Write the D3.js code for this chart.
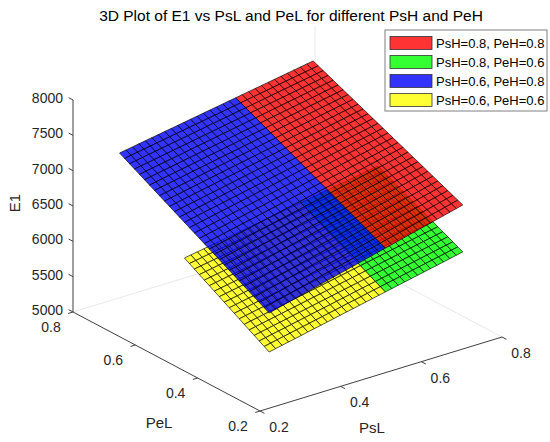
<!DOCTYPE html>
<html>
<head>
<meta charset="utf-8">
<script src="https://cdn.jsdelivr.net/npm/d3@7"></script>
<style>
  body { margin: 0; background: #fff; }
  svg { font-family: "Liberation Sans", Arial, sans-serif; }
</style>
</head>
<body>
<div id="chart"></div>
<script>
// DATA
const seriesNames = ["PsH=0.8, PeH=0.8", "PsH=0.8, PeH=0.6", "PsH=0.6, PeH=0.8", "PsH=0.6, PeH=0.6"];
// grid extent of each surface
const psLStart = [0.588, 0.588, 0.3, 0.3];
const psLEnd = [0.78, 0.78, 0.588, 0.588];
const peLStart = [0.3, 0.3, 0.3, 0.3];
const peLEnd = [0.78, 0.572, 0.78, 0.572];
// E1 at the corners: [PsL start/PeL start, end/start, start/end, end/end]
const e1Corners = [
  [6394, 6670, 7401, 7587],
  [5774, 6005, 6400, 6586],
  [5979, 6394, 7122, 7401],
  [5427, 5774, 6122, 6400]
];
const gridStep = 0.016;
const psLTicks = [0.2, 0.4, 0.6, 0.8];
const peLTicks = [0.2, 0.4, 0.6, 0.8];
const e1Ticks = [5000, 5500, 6000, 6500, 7000, 7500, 8000];

// STYLE
const colors = ["#ff0000", "#00ff00", "#0000ff", "#ffff00"];
const textColor = "#262626";
const axisColor = "#404040";

// PROJECTION (view az -37.5, el 30)
const width = 550, height = 442;
const origin = [260, 411];
const uAxis = [242, -74], vAxis = [-187, -99], wAxis = [0, -212];

const u = d3.scaleLinear().domain([0.2, 0.8]).range([0, 1]);
const v = d3.scaleLinear().domain([0.2, 0.8]).range([0, 1]);
const w = d3.scaleLinear().domain([5000, 8000]).range([0, 1]);

function project(ps, pe, e) {
  const a = u(ps), b = v(pe), c = w(e);
  return [origin[0] + a * uAxis[0] + b * vAxis[0] + c * wAxis[0],
          origin[1] + a * uAxis[1] + b * vAxis[1] + c * wAxis[1]];
}

// distance from the viewer along the line of sight
function depth(ps, pe, e) {
  return 187 * u(ps) + 242 * v(pe) - 178 * w(e);
}

const svg = d3.select("#chart").append("svg")
    .attr("width", width)
    .attr("height", height);

// back box edges
const back = project(0.8, 0.8, 5000);
const backLines = [
  [project(0.2, 0.8, 5000), back],
  [project(0.8, 0.2, 5000), back],
  [back, project(0.8, 0.8, 8000)]
];
svg.append("g")
    .attr("stroke", "#e3e3e3")
    .attr("stroke-width", 0.8)
  .selectAll()
  .data(backLines)
  .join("line")
    .attr("x1", d => d[0][0]).attr("y1", d => d[0][1])
    .attr("x2", d => d[1][0]).attr("y2", d => d[1][1]);

// SURFACE CELLS
const cells = [];
seriesNames.forEach((name, k) => {
  const nu = Math.round((psLEnd[k] - psLStart[k]) / gridStep);
  const nv = Math.round((peLEnd[k] - peLStart[k]) / gridStep);
  const [e00, e10, e01, e11] = e1Corners[k];
  const node = (i, j) => {
    const s = i / nu, t = j / nv;
    return [
      psLStart[k] + s * (psLEnd[k] - psLStart[k]),
      peLStart[k] + t * (peLEnd[k] - peLStart[k]),
      e00 * (1 - s) * (1 - t) + e10 * s * (1 - t) + e01 * (1 - s) * t + e11 * s * t
    ];
  };
  for (let i = 0; i < nu; i++) {
    for (let j = 0; j < nv; j++) {
      const pts = [node(i, j), node(i + 1, j), node(i + 1, j + 1), node(i, j + 1)];
      const d = d3.mean(pts, p => depth(p[0], p[1], p[2]));
      cells.push({ k, pts, d });
    }
  }
});
cells.sort((a, b) => b.d - a.d);

const line = d3.line();
svg.append("g")
    .attr("stroke", "#000")
    .attr("stroke-width", 0.65)
    .attr("stroke-linejoin", "round")
  .selectAll()
  .data(cells)
  .join("path")
    .attr("d", d => line(d.pts.map(p => project(p[0], p[1], p[2]))) + "Z")
    .attr("fill", d => colors[d.k])
    .attr("fill-opacity", 0.8);

// AXES
const axes = svg.append("g")
    .attr("stroke", axisColor)
    .attr("stroke-width", 1)
    .attr("fill", "none");

const p0 = project(0.2, 0.2, 5000);
const pX = project(0.8, 0.2, 5000);
const pY = project(0.2, 0.8, 5000);
const pZ = project(0.2, 0.8, 8000);
axes.append("line").attr("x1", p0[0]).attr("y1", p0[1]).attr("x2", pX[0]).attr("y2", pX[1]);
axes.append("line").attr("x1", p0[0]).attr("y1", p0[1]).attr("x2", pY[0]).attr("y2", pY[1]);
axes.append("line").attr("x1", pY[0]).attr("y1", pY[1]).attr("x2", pZ[0]).attr("y2", pZ[1]);

const tickLen = 5;
const unit = (vec, s) => { const n = Math.hypot(vec[0], vec[1]); return [s * vec[0] / n, s * vec[1] / n]; };
const psLTickDir = unit(vAxis, -tickLen);
const peLTickDir = unit(uAxis, -tickLen);
const e1TickDir = unit(vAxis, tickLen);

const fmt = d3.format(".1f");

// PsL ticks
axes.selectAll(".tx")
  .data(psLTicks)
  .join("line")
    .attr("x1", d => project(d, 0.2, 5000)[0])
    .attr("y1", d => project(d, 0.2, 5000)[1])
    .attr("x2", d => project(d, 0.2, 5000)[0] + psLTickDir[0])
    .attr("y2", d => project(d, 0.2, 5000)[1] + psLTickDir[1]);

svg.append("g")
    .attr("fill", textColor)
    .attr("font-size", 14)
    .attr("text-anchor", "middle")
  .selectAll()
  .data(psLTicks)
  .join("text")
    .attr("x", d => project(d, 0.2, 5000)[0] + 19)
    .attr("y", d => project(d, 0.2, 5000)[1] + 16)
    .attr("dy", "0.35em")
    .text(d => fmt(d));

// PeL ticks
axes.selectAll(".ty")
  .data(peLTicks)
  .join("line")
    .attr("x1", d => project(0.2, d, 5000)[0])
    .attr("y1", d => project(0.2, d, 5000)[1])
    .attr("x2", d => project(0.2, d, 5000)[0] + peLTickDir[0])
    .attr("y2", d => project(0.2, d, 5000)[1] + peLTickDir[1]);

svg.append("g")
    .attr("fill", textColor)
    .attr("font-size", 14)
    .attr("text-anchor", "middle")
  .selectAll()
  .data(peLTicks)
  .join("text")
    .attr("x", d => project(0.2, d, 5000)[0] - 22)
    .attr("y", d => project(0.2, d, 5000)[1] + 15)
    .attr("dy", "0.35em")
    .text(d => fmt(d));

// E1 ticks
axes.selectAll(".tz")
  .data(e1Ticks)
  .join("line")
    .attr("x1", d => project(0.2, 0.8, d)[0])
    .attr("y1", d => project(0.2, 0.8, d)[1])
    .attr("x2", d => project(0.2, 0.8, d)[0] + e1TickDir[0])
    .attr("y2", d => project(0.2, 0.8, d)[1] + e1TickDir[1]);

svg.append("g")
    .attr("fill", textColor)
    .attr("font-size", 14)
    .attr("text-anchor", "end")
  .selectAll()
  .data(e1Ticks)
  .join("text")
    .attr("x", d => project(0.2, 0.8, d)[0] - 10)
    .attr("y", d => project(0.2, 0.8, d)[1] - 2)
    .attr("dy", "0.35em")
    .text(d => d);

// axis titles
const titles = svg.append("g")
    .attr("fill", textColor)
    .attr("font-size", 15)
    .attr("text-anchor", "middle");
titles.append("text").attr("x", 372).attr("y", 428).attr("dy", "0.35em").text("PsL");
titles.append("text").attr("x", 159).attr("y", 423).attr("dy", "0.35em").text("PeL");
titles.append("text")
    .attr("transform", "translate(15,203) rotate(-90)")
    .attr("dy", "0.35em")
    .text("E1");

svg.append("text")
    .attr("x", 291)
    .attr("y", 16)
    .attr("dy", "0.35em")
    .attr("text-anchor", "middle")
    .attr("font-size", 15.5)
    .attr("fill", "#000")
    .text("3D Plot of E1 vs PsL and PeL for different PsH and PeH");

// LEGEND
const legend = svg.append("g").attr("transform", "translate(385,30)");
legend.append("rect")
    .attr("width", 162)
    .attr("height", 81)
    .attr("fill", "#fff")
    .attr("stroke", "#7f7f7f")
    .attr("stroke-width", 1);

const entry = legend.selectAll()
  .data(seriesNames)
  .join("g")
    .attr("transform", (d, i) => `translate(0,${13 + i * 19})`);

entry.append("rect")
    .attr("x", 5)
    .attr("y", -6.5)
    .attr("width", 42)
    .attr("height", 13)
    .attr("fill", (d, i) => colors[i])
    .attr("fill-opacity", 0.8)
    .attr("stroke", "#333")
    .attr("stroke-width", 0.8);

entry.append("text")
    .attr("x", 51)
    .attr("dy", "0.35em")
    .attr("font-size", 13)
    .attr("fill", "#000")
    .text(d => d);
</script>
</body>
</html>
